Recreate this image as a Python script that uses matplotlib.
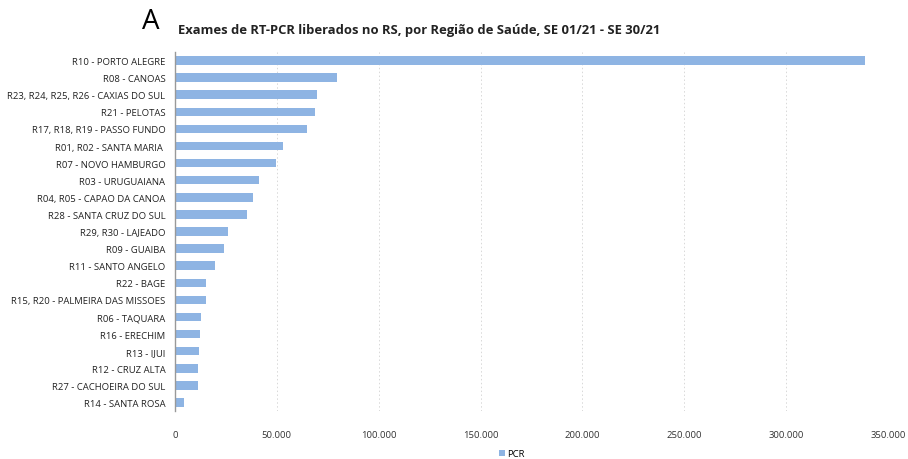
import matplotlib
matplotlib.use("Agg")
import matplotlib.pyplot as plt
from matplotlib.ticker import FuncFormatter

categories = [
    "R10 - PORTO ALEGRE", "R08 - CANOAS", "R23, R24, R25, R26 - CAXIAS DO SUL",
    "R21 - PELOTAS", "R17, R18, R19 - PASSO FUNDO", "R01, R02 - SANTA MARIA ",
    "R07 - NOVO HAMBURGO", "R03 - URUGUAIANA", "R04, R05 - CAPAO DA CANOA",
    "R28 - SANTA CRUZ DO SUL", "R29, R30 - LAJEADO", "R09 - GUAIBA",
    "R11 - SANTO ANGELO", "R22 - BAGE", "R15, R20 - PALMEIRA DAS MISSOES",
    "R06 - TAQUARA", "R16 - ERECHIM", "R13 - IJUI", "R12 - CRUZ ALTA",
    "R27 - CACHOEIRA DO SUL", "R14 - SANTA ROSA",
]
pcr = [338700, 79400, 69500, 68600, 64700, 52900, 49700, 41200, 38200, 35300,
       25800, 23900, 19600, 15400, 15300, 12600, 12500, 11600, 11500, 11100, 4400]
xticks = [0, 50000, 100000, 150000, 200000, 250000, 300000, 350000]

plt.rcParams['font.family'] = ['Open Sans', 'DejaVu Sans']
fig = plt.figure(figsize=(9.08, 4.6), dpi=100)
ax = fig.add_axes([175/908, 1-412/460, (888-175)/908, (412-53)/460])

color = "#8eb4e3"
ypos = list(range(len(categories)))
ax.barh(ypos, pcr, height=0.5, color=color, label="PCR")
ax.set_yticks(ypos)
ax.set_yticklabels(categories, fontsize=6.8)
ax.set_ylim(len(categories) - 0.5, -0.5)
ax.set_xlim(0, 350000)
ax.set_xticks(xticks)
ax.xaxis.set_major_formatter(FuncFormatter(lambda v, p: f"{int(v):,}".replace(",", ".")))
ax.tick_params(axis='x', labelsize=6.8, length=0, pad=14, colors="#333333")
ax.tick_params(axis='y', length=0, pad=7, colors="#222222")
ax.grid(axis='x', color="#d8d8d8", linestyle=(0, (1.5, 2.5)), linewidth=0.7)
ax.set_axisbelow(True)
for s in ["top", "right", "bottom"]:
    ax.spines[s].set_visible(False)
ax.spines["left"].set_color("#999999")
ax.spines["left"].set_linewidth(1.0)

fig.text(142/908, 1-22/460, "A", fontsize=20, va="center", ha="left")
fig.text(178/908, 1-31/460, "Exames de RT-PCR liberados no RS, por Região de Saúde, SE 01/21 - SE 30/21",
         fontsize=9.4, fontweight="bold", va="center", ha="left", color="#222222")

leg = fig.legend(loc="center", bbox_to_anchor=(512/908, 1-455/460), frameon=False,
                 fontsize=6.8, handlelength=0.6, handleheight=0.6, handletextpad=0.3)

fig.savefig("out.png", dpi=100)
